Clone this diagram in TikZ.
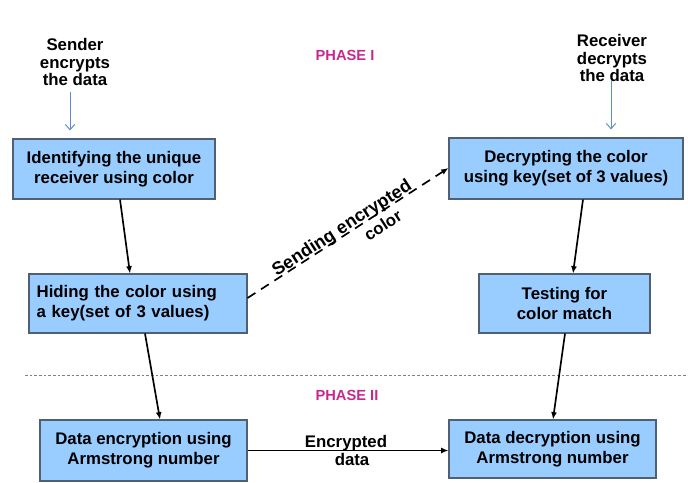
\documentclass[tikz,border=0pt]{standalone}
\usepackage{fontspec}
\setmainfont{Liberation Sans}
\usetikzlibrary{arrows.meta}
\definecolor{boxblue}{RGB}{153,204,255}
\definecolor{boxedge}{RGB}{80,95,115}
\definecolor{phasecol}{RGB}{200,40,140}
\definecolor{bluearrow}{RGB}{90,140,205}
\tikzset{
  stepbox/.style={draw=boxedge, line width=0.8pt, fill=boxblue, font=\fontsize{12.6}{15}\selectfont\bfseries, align=center, inner sep=2pt},
  plain/.style={font=\fontsize{12.6}{13.2}\selectfont\bfseries, align=center, inner sep=1pt},
  phase/.style={font=\fontsize{11}{12}\selectfont\bfseries, text=phasecol},
  arr/.style={-{Latex[length=5.5pt,width=4.5pt]}, line width=1.25pt, black},
  bluearr/.style={-{Straight Barb[length=4pt,width=7pt]}, line width=0.7pt, bluearrow},
}
\begin{document}
\begin{tikzpicture}[x=0.75pt,y=-0.75pt]
\path[use as bounding box] (0,0) rectangle (688,482);
% texts
\node[plain] (sender) at (75,62) {Sender\\encrypts\\the data};
\node[plain] (receiver) at (612,58) {Receiver\\decrypts\\the data};
\node[phase] (p1) at (345,55) {PHASE I};
\node[phase] (p2) at (347,395) {PHASE II};
% boxes
\node[stepbox, minimum width=151.5pt, minimum height=45pt] (b1) at (114,169) {Identifying the unique\\receiver using color};
\node[stepbox, minimum width=163.5pt, minimum height=44.25pt, text width=152pt, align=left] (b2) at (138,303.5) {Hiding the color using\\a key(set of 3 values)};
\node[stepbox, minimum width=155.25pt, minimum height=45.75pt] (b3) at (143.5,450.5) {Data encryption using\\Armstrong number};
\node[stepbox, minimum width=175.5pt, minimum height=45.75pt] (b4) at (566,168.5) {Decrypting the color\\using key(set of 3 values)};
\node[stepbox, minimum width=128.25pt, minimum height=44.25pt] (b5) at (564.5,303.5) {Testing for\\color match};
\node[stepbox, minimum width=155.25pt, minimum height=43.5pt] (b6) at (552.5,449) {Data decryption using\\Armstrong number};
% phase separator
\coordinate (sepL) at (25,375);
\coordinate (sepR) at (688,375);
\draw[gray, line width=0.6pt, dash pattern=on 2pt off 1.5pt] (sepL) -- (sepR);
% blue arrows
\draw[bluearr] (sender.south -| 70,0) ++(0,5) -- ([yshift=6pt]b1.north -| 70,0);
\coordinate (rstart) at (611,80);
\draw[bluearr] (rstart) -- ([yshift=6pt]b4.north -| 611,0);
% black arrows
\draw[arr] (b1.south -| 120,0) -- (b2.north -| 130,0);
\draw[arr] (b2.south -| 145,0) -- (b3.north -| 160,0);
\draw[arr] (b4.south -| 583,0) -- (b5.north -| 573,0);
\draw[arr] (b5.south -| 565,0) -- (b6.north -| 553,0);
\draw[arr] (b3.east) -- (b6.west |- b3.east)
  node[pos=0.49, above, font=\fontsize{12.6}{13.5}\selectfont\bfseries, inner sep=0pt, yshift=-1pt] {Encrypted}
  node[pos=0.52, below, font=\fontsize{12.6}{13.5}\selectfont\bfseries, inner sep=0pt, yshift=-1.5pt] {data};
\draw[arr, dash pattern=on 7pt off 5pt] (b2.east |- 0,298) -- (b4.west |- 0,168)
  node[sloped, pos=0.49, above, inner sep=0pt, yshift=-2pt, font=\fontsize{13.5}{14}\selectfont\bfseries] {Sending encrypted}
  node[sloped, pos=0.64, below, inner sep=0pt, yshift=-4pt, font=\fontsize{12.6}{13}\selectfont\bfseries] {color};
\end{tikzpicture}
\end{document}
